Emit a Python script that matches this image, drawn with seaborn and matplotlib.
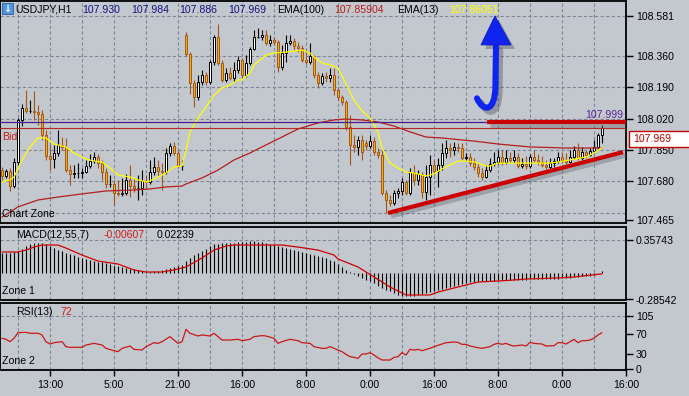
import numpy as np
import matplotlib
matplotlib.use("Agg")
import matplotlib.pyplot as plt
import matplotlib.patheffects as pe
from matplotlib.patches import Polygon, Rectangle, PathPatch
from matplotlib.path import Path
from matplotlib.transforms import offset_copy
import seaborn as sns

# ---------------- data (USDJPY H1 candles) ----------------
opens = [107.739, 107.707, 107.734, 107.652, 107.783, 108.012, 108.077, 108.061, 108.061, 108.056,
         108.045, 107.930, 107.816, 107.799, 107.832, 107.876, 107.865, 107.739, 107.718, 107.723,
         107.723, 107.728, 107.761, 107.788, 107.810, 107.777, 107.728, 107.663, 107.663, 107.614,
         107.609, 107.614, 107.685, 107.652, 107.641, 107.641, 107.680, 107.674, 107.728, 107.756,
         107.734, 107.728, 107.832, 107.870, 107.832, 107.761, 108.475, 108.372, 108.214, 108.137,
         108.219, 108.257, 108.219, 108.328, 108.464, 108.323, 108.230, 108.268, 108.241, 108.284,
         108.339, 108.257, 108.323, 108.399, 108.464, 108.464, 108.475, 108.432, 108.448, 108.437,
         108.301, 108.377, 108.432, 108.442, 108.415, 108.404, 108.339, 108.328, 108.361, 108.257,
         108.214, 108.252, 108.241, 108.257, 108.175, 108.137, 108.110, 107.974, 107.876, 107.865,
         107.903, 107.887, 107.870, 107.897, 107.837, 107.821, 107.614, 107.576, 107.560, 107.614,
         107.625, 107.674, 107.614, 107.728, 107.685, 107.718, 107.620, 107.701, 107.767, 107.734,
         107.767, 107.832, 107.859, 107.848, 107.865, 107.859, 107.805, 107.810, 107.777, 107.756,
         107.723, 107.701, 107.739, 107.772, 107.783, 107.810, 107.783, 107.805, 107.794, 107.810,
         107.761, 107.772, 107.761, 107.810, 107.794, 107.783, 107.767, 107.756, 107.777, 107.788,
         107.810, 107.794, 107.783, 107.810, 107.848, 107.805, 107.837, 107.821, 107.843, 107.865,
         107.930]
highs = [107.756, 107.745, 107.750, 107.805, 108.023, 108.099, 108.175, 108.121, 108.170, 108.094,
         108.066, 107.957, 107.876, 107.876, 107.957, 107.919, 107.914, 107.767, 107.767, 107.777,
         107.750, 107.794, 107.827, 107.837, 107.827, 107.794, 107.750, 107.712, 107.685, 107.685,
         107.696, 107.718, 107.767, 107.696, 107.712, 107.739, 107.712, 107.794, 107.810, 107.794,
         107.777, 107.859, 107.887, 107.892, 107.848, 107.794, 108.492, 108.382, 108.230, 108.257,
         108.284, 108.273, 108.339, 108.475, 108.535, 108.339, 108.295, 108.301, 108.328, 108.361,
         108.350, 108.366, 108.410, 108.502, 108.513, 108.502, 108.502, 108.475, 108.464, 108.448,
         108.421, 108.475, 108.475, 108.459, 108.437, 108.421, 108.393, 108.432, 108.366, 108.273,
         108.268, 108.273, 108.295, 108.295, 108.186, 108.148, 108.121, 108.039, 107.930, 107.925,
         107.930, 107.903, 107.930, 107.919, 107.859, 107.848, 107.630, 107.603, 107.630, 107.641,
         107.696, 107.685, 107.750, 107.767, 107.739, 107.728, 107.767, 107.821, 107.794, 107.805,
         107.887, 107.903, 107.887, 107.892, 107.887, 107.887, 107.832, 107.832, 107.805, 107.777,
         107.750, 107.767, 107.805, 107.837, 107.848, 107.848, 107.848, 107.837, 107.848, 107.832,
         107.805, 107.816, 107.827, 107.848, 107.827, 107.816, 107.794, 107.805, 107.805, 107.837,
         107.837, 107.832, 107.848, 107.870, 107.887, 107.865, 107.848, 107.859, 107.903, 107.941,
         107.984]
lows = [107.685, 107.696, 107.625, 107.641, 107.767, 107.979, 108.050, 108.050, 108.012, 107.985,
        107.903, 107.794, 107.739, 107.750, 107.816, 107.848, 107.728, 107.658, 107.696, 107.696,
        107.696, 107.723, 107.750, 107.777, 107.750, 107.685, 107.641, 107.647, 107.549, 107.598,
        107.598, 107.603, 107.592, 107.620, 107.576, 107.603, 107.641, 107.663, 107.712, 107.707,
        107.630, 107.718, 107.816, 107.821, 107.750, 107.739, 108.361, 108.154, 108.083, 108.121,
        108.203, 108.203, 108.208, 108.312, 108.312, 108.219, 108.219, 108.230, 108.219, 108.268,
        108.246, 108.246, 108.312, 108.393, 108.459, 108.448, 108.421, 108.415, 108.421, 108.273,
        108.284, 108.328, 108.421, 108.393, 108.382, 108.328, 108.317, 108.317, 108.241, 108.186,
        108.203, 108.219, 108.219, 108.148, 108.121, 108.094, 107.957, 107.767, 107.837, 107.821,
        107.794, 107.848, 107.859, 107.821, 107.805, 107.603, 107.505, 107.543, 107.549, 107.587,
        107.603, 107.603, 107.603, 107.658, 107.658, 107.587, 107.576, 107.603, 107.712, 107.647,
        107.739, 107.805, 107.810, 107.821, 107.837, 107.794, 107.794, 107.761, 107.739, 107.701,
        107.685, 107.696, 107.728, 107.761, 107.772, 107.767, 107.772, 107.777, 107.777, 107.750,
        107.750, 107.745, 107.750, 107.783, 107.767, 107.756, 107.745, 107.745, 107.756, 107.777,
        107.777, 107.772, 107.777, 107.799, 107.794, 107.794, 107.805, 107.816, 107.832, 107.848,
        107.886]
closes = [107.707, 107.734, 107.652, 107.783, 108.012, 108.077, 108.061, 108.061, 108.056, 108.045,
          107.930, 107.816, 107.799, 107.832, 107.876, 107.865, 107.739, 107.718, 107.723, 107.723,
          107.728, 107.761, 107.788, 107.810, 107.777, 107.728, 107.663, 107.663, 107.614, 107.609,
          107.614, 107.685, 107.652, 107.641, 107.641, 107.680, 107.674, 107.728, 107.756, 107.734,
          107.728, 107.832, 107.870, 107.832, 107.761, 107.761, 108.372, 108.214, 108.137, 108.219,
          108.257, 108.219, 108.328, 108.464, 108.323, 108.230, 108.268, 108.241, 108.284, 108.339,
          108.257, 108.323, 108.399, 108.464, 108.464, 108.475, 108.432, 108.448, 108.437, 108.301,
          108.377, 108.432, 108.442, 108.415, 108.404, 108.339, 108.328, 108.361, 108.257, 108.214,
          108.252, 108.241, 108.257, 108.175, 108.137, 108.110, 107.974, 107.876, 107.865, 107.903,
          107.837, 107.870, 107.897, 107.837, 107.821, 107.614, 107.576, 107.560, 107.614, 107.625,
          107.674, 107.614, 107.728, 107.685, 107.718, 107.620, 107.701, 107.767, 107.734, 107.767,
          107.832, 107.859, 107.848, 107.865, 107.859, 107.805, 107.810, 107.777, 107.756, 107.723,
          107.701, 107.739, 107.772, 107.783, 107.810, 107.783, 107.805, 107.794, 107.810, 107.761,
          107.772, 107.761, 107.810, 107.794, 107.783, 107.767, 107.756, 107.777, 107.788, 107.810,
          107.794, 107.783, 107.810, 107.848, 107.805, 107.837, 107.821, 107.843, 107.865, 107.930,
          107.969]

ema13_bars = [0, 2, 3, 5, 7, 9, 11, 13, 15, 16, 18, 21, 23, 25, 27, 29, 32, 34, 36, 37,
              39, 41, 43, 45, 46, 47, 49, 51, 53, 55, 57, 59, 60, 62, 63, 66, 68, 71, 73, 75,
              77, 78, 80, 82, 84, 85, 88, 90, 92, 94, 95, 97, 99, 101, 103, 105, 106, 108, 110, 112,
              114, 116, 118, 121, 122, 124, 128, 132, 137, 139, 142, 146, 148, 150]
ema13_vals = [107.674, 107.685, 107.701, 107.794, 107.865, 107.914, 107.914, 107.881, 107.870, 107.865,
              107.832, 107.799, 107.788, 107.783, 107.750, 107.712, 107.701, 107.685, 107.674, 107.680,
              107.701, 107.723, 107.756, 107.761, 107.848, 107.946, 108.023, 108.083, 108.148, 108.186,
              108.203, 108.230, 108.230, 108.268, 108.312, 108.366, 108.377, 108.382, 108.388, 108.393,
              108.377, 108.355, 108.323, 108.312, 108.295, 108.252, 108.121, 108.061, 108.023, 107.946,
              107.859, 107.777, 107.750, 107.728, 107.723, 107.712, 107.707, 107.718, 107.745, 107.767,
              107.788, 107.788, 107.783, 107.761, 107.761, 107.777, 107.777, 107.777, 107.777, 107.783,
              107.794, 107.810, 107.832, 107.861]
ema100_bars = [0, 4, 9, 14, 20, 26, 33, 37, 41, 45, 46, 50, 54, 58, 62, 66, 70, 74, 79, 83,
               86, 90, 94, 98, 102, 106, 110, 115, 118, 124, 132, 141, 150]
ema100_vals = [107.483, 107.538, 107.576, 107.592, 107.609, 107.625, 107.630, 107.636, 107.647, 107.652,
               107.663, 107.696, 107.739, 107.794, 107.832, 107.876, 107.919, 107.963, 107.996, 108.012,
               108.017, 108.012, 108.001, 107.979, 107.947, 107.919, 107.914, 107.903, 107.897, 107.881,
               107.865, 107.859, 107.859]

macd_hist = [0.221, 0.221, 0.221, 0.232, 0.243, 0.264, 0.297, 0.320, 0.330, 0.330,
             0.330, 0.320, 0.297, 0.275, 0.253, 0.238, 0.221, 0.210, 0.194, 0.183,
             0.167, 0.156, 0.145, 0.134, 0.123, 0.118, 0.107, 0.096, 0.085, 0.080,
             0.069, 0.058, 0.052, 0.047, 0.036, 0.025, 0.014, 0.014, 0.020, 0.025,
             0.036, 0.047, 0.058, 0.069, 0.080, 0.090, 0.134, 0.167, 0.199, 0.221,
             0.243, 0.264, 0.297, 0.314, 0.320, 0.325, 0.330, 0.330, 0.333, 0.336,
             0.340, 0.345, 0.357, 0.352, 0.345, 0.336, 0.330, 0.320, 0.308, 0.297,
             0.286, 0.275, 0.264, 0.253, 0.243, 0.232, 0.221, 0.210, 0.199, 0.189,
             0.178, 0.167, 0.150, 0.134, 0.101, 0.074, 0.041, 0.014, -0.008, -0.029,
             -0.046, -0.068, -0.089, -0.111, -0.133, -0.155, -0.177, -0.198, -0.215, -0.236,
             -0.242, -0.247, -0.247, -0.247, -0.236, -0.226, -0.215, -0.209, -0.198, -0.182,
             -0.166, -0.155, -0.144, -0.138, -0.127, -0.117, -0.106, -0.100, -0.095, -0.095,
             -0.089, -0.089, -0.084, -0.084, -0.078, -0.078, -0.073, -0.073, -0.073, -0.068,
             -0.068, -0.068, -0.062, -0.062, -0.062, -0.062, -0.062, -0.057, -0.057, -0.057,
             -0.051, -0.051, -0.046, -0.040, -0.035, -0.029, -0.029, -0.024, -0.019, -0.002,
             0.022]
signal_bars = [0, 4, 6, 8, 10, 14, 16, 20, 24, 29, 33, 36, 40, 43, 46, 50, 53, 56, 58, 66,
               70, 74, 79, 83, 84, 89, 93, 97, 101, 107, 109, 114, 119, 124, 128, 131, 139, 143, 150]
signal_vals = [0.232, 0.232, 0.253, 0.286, 0.308, 0.308, 0.275, 0.199, 0.134, 0.101,
               0.036, 0.014, 0.014, 0.036, 0.069, 0.167, 0.253, 0.297, 0.308, 0.308,
               0.308, 0.286, 0.253, 0.199, 0.156, 0.069, -0.040, -0.149, -0.236, -0.236,
               -0.204, -0.149, -0.095, -0.084, -0.073, -0.062, -0.051, -0.040, -0.006]

rsi_bars = [0, 1, 2, 3, 4, 6, 7, 9, 10, 11, 12, 13, 15, 16, 17, 20, 21, 23, 25, 26,
            28, 29, 30, 32, 33, 35, 36, 38, 39, 40, 42, 43, 44, 45, 46, 47, 49, 50, 52, 53,
            54, 55, 57, 59, 60, 62, 63, 65, 66, 68, 69, 70, 72, 74, 75, 77, 78, 80, 81, 82,
            84, 85, 86, 87, 88, 89, 90, 91, 92, 93, 94, 95, 97, 98, 99, 100, 101, 102, 103, 104,
            105, 107, 108, 110, 111, 113, 114, 115, 116, 117, 119, 120, 122, 123, 124, 125, 126, 127, 128, 130,
            131, 132, 133, 135, 136, 138, 139, 140, 141, 142, 143, 144, 145, 146, 147, 148, 149, 150]
rsi_vals = [60.8, 58.8, 54.1, 60.8, 72.0, 72.6, 70.7, 70.7, 67.4, 54.1,
            49.5, 52.1, 54.1, 44.2, 42.9, 42.9, 47.5, 50.8, 47.5, 40.9,
            36.3, 34.3, 40.9, 45.5, 38.9, 37.6, 44.2, 52.1, 50.8, 54.1,
            64.1, 57.4, 50.8, 54.1, 78.6, 70.7, 65.4, 67.4, 65.4, 70.7,
            64.1, 57.4, 57.4, 58.8, 56.1, 58.8, 64.1, 66.1, 65.4, 60.8,
            50.8, 54.1, 58.8, 56.1, 52.1, 50.8, 44.2, 40.9, 40.9, 44.2,
            37.6, 34.3, 29.0, 24.4, 23.1, 21.1, 29.7, 29.7, 32.3, 27.7,
            22.0, 17.8, 17.8, 23.1, 24.4, 32.3, 27.7, 38.9, 37.6, 38.9,
            36.3, 40.9, 44.2, 49.5, 52.1, 53.4, 52.7, 48.8, 48.8, 45.5,
            42.2, 40.9, 44.2, 48.8, 50.8, 48.8, 50.8, 47.5, 45.5, 47.5,
            45.5, 52.7, 50.8, 49.5, 45.5, 46.1, 52.1, 52.1, 49.5, 54.1,
            58.8, 52.1, 56.1, 56.1, 57.4, 60.8, 67.4, 72.0]

price_ticks = [108.581, 108.360, 108.190, 108.020, 107.850, 107.680, 107.465]
price_grid = [108.581, 108.360, 108.190, 108.020, 107.850, 107.680, 107.505]
macd_ticks = [0.35743, -0.28542]
rsi_ticks = [105, 70, 30, 0]
time_bars = [12, 28, 44, 60, 76, 92, 108, 124, 140, 156]
time_labels = ["13:00", "5:00", "21:00", "16:00", "8:00", "0:00", "16:00", "8:00", "0:00", "16:00"]
grid_bars = list(range(4, 156, 8))
bid_price = 107.969
level_price = 107.999
level_bars = [121.25, 156]
trend_bars = [96.5, 155.25]
trend_prices = [107.505, 107.837]

# ---------------- styling ----------------
sns.set_style("white")
plt.rcParams['font.family'] = ['Liberation Sans', 'DejaVu Sans']

W, H = 689, 396
BG = '#c3c8ce'
GRID = '#7c899b'
FS = 7.6
fig = plt.figure(figsize=(W / 100, H / 100), dpi=100)
fig.patch.set_facecolor(BG)


def fx(px):
    return px / W


def fy(py):
    return 1 - py / H


def panel(top, bottom, ylim):
    ax = fig.add_axes([0, fy(bottom), fx(626), (bottom - top) / H])
    ax.set_facecolor(BG)
    ax.set_xlim(-0.5, 156)
    ax.set_ylim(*ylim)
    for s in ax.spines.values():
        s.set_color('black')
        s.set_linewidth(1.3)
    ax.yaxis.tick_right()
    ax.tick_params(axis='y', direction='out', length=5, width=1, pad=2,
                   labelsize=FS, colors='black', left=False, right=True)
    ax.set_xticks([])
    for b in grid_bars:
        ax.axvline(b, color=GRID, lw=0.8, ls=(0, (3, 2)), zorder=0)
    return ax


ax1 = panel(1, 223, (107.4504, 108.6605))
ax2 = panel(227, 299.5, (-0.2854, 0.5045))
ax3 = panel(303, 370, (-2.0, 130.7))

# main panel grid + ticks
for p in price_grid:
    ax1.axhline(p, color=GRID, lw=0.8, ls=(0, (3, 2)), zorder=0)
ax1.set_yticks(price_ticks)
ax1.set_yticklabels([f"{v:.3f}" for v in price_ticks])

# candles
o = np.array(opens); h = np.array(highs); l = np.array(lows); c = np.array(closes)
x = np.arange(len(c))
up = c >= o
lo_body = np.minimum(o, c)
hb = np.maximum(np.abs(c - o), 0.0010)
ax1.vlines(x[up], l[up], h[up], color='black', lw=0.8, zorder=3)
ax1.vlines(x[~up], l[~up], h[~up], color='#a4561a', lw=0.8, zorder=3)
ax1.bar(x[up], hb[up], bottom=lo_body[up], width=0.5, color='white',
        edgecolor='black', linewidth=0.7, zorder=4)
ax1.bar(x[~up], hb[~up], bottom=lo_body[~up], width=0.5, color='#f2b300',
        edgecolor='#a4561a', linewidth=0.7, zorder=4)

# moving averages
sns.lineplot(x=ema100_bars, y=ema100_vals, ax=ax1, color='#b41e1e', lw=0.9, legend=False, zorder=5)
sns.lineplot(x=ema13_bars, y=ema13_vals, ax=ax1, color='#ffff00', lw=0.9, legend=False, zorder=5)

# horizontal levels
ax1.axhline(level_price, color='#4a1d8c', lw=0.9, zorder=5)
ax1.axhline(bid_price, color='#b02828', lw=0.8, zorder=5)

shadow_tr = offset_copy(ax1.transData, fig=fig, x=3, y=-3, units='dots')
for xs, ys in [(level_bars, [level_price, level_price]), (trend_bars, trend_prices)]:
    ax1.plot(xs, ys, color='#555c66', lw=3.6, alpha=0.35, transform=shadow_tr,
             solid_capstyle='butt', zorder=6)
    ax1.plot(xs, ys, color='#cc0000', lw=3.0, solid_capstyle='butt', zorder=7)

# blue J arrow annotation
shaft = Path([(123.5, 108.415), (123.35, 108.19), (123.2, 108.06), (120.5, 108.05), (118.75, 108.13)],
             [Path.MOVETO, Path.LINETO, Path.CURVE4, Path.CURVE4, Path.CURVE4])
head = [(123.25, 108.579), (119.75, 108.421), (127.25, 108.421)]
shadow_tr2 = offset_copy(ax1.transData, fig=fig, x=4, y=-4, units='dots')
ax1.add_patch(PathPatch(shaft, fill=False, lw=4.6, edgecolor='#3a3f4a', alpha=0.35,
                        capstyle='round', transform=shadow_tr2, zorder=8))
ax1.add_patch(Polygon(head, closed=True, facecolor='#3a3f4a', edgecolor='none', alpha=0.35,
                      transform=shadow_tr2, zorder=8))
ax1.add_patch(PathPatch(shaft, fill=False, lw=4.4, edgecolor='#1024f0', capstyle='round', zorder=9))
ax1.add_patch(Polygon(head, closed=True, facecolor='#1024f0', edgecolor='#0a18c0', lw=0.6, zorder=9))

# MACD panel
ax2.axhline(macd_ticks[0], color=GRID, lw=0.8, ls=(0, (3, 2)), zorder=0)
ax2.vlines(x, 0, macd_hist, color='black', lw=0.8, zorder=3)
sns.lineplot(x=signal_bars, y=signal_vals, ax=ax2, color='#d00000', lw=0.9, legend=False, zorder=4)
ax2.set_yticks(macd_ticks)
ax2.set_yticklabels([f"{v:.5f}" for v in macd_ticks])

# RSI panel
for r in [105, 0]:
    ax3.axhline(r, color=GRID, lw=0.8, ls=(0, (3, 2)), zorder=0)
sns.lineplot(x=rsi_bars, y=rsi_vals, ax=ax3, color='#c81818', lw=0.9, legend=False, zorder=4)
ax3.set_yticks(rsi_ticks)
ax3.set_yticklabels([str(v) for v in rsi_ticks])
ax3.set_xticks(time_bars)
ax3.set_xticklabels(time_labels)
ax3.tick_params(axis='x', direction='out', length=4, width=1, pad=3, labelsize=FS, colors='black',
                bottom=True)
for a in (ax1, ax2, ax3):
    a.set_xlabel('')
    a.set_ylabel('')

# ---------------- texts ----------------
def t(px, py, s, color='black', ha='left', size=FS):
    fig.text(fx(px), fy(py), s, color=color, ha=ha, va='center', fontsize=size)

fig.patches.append(Rectangle((fx(2), fy(14)), fx(11), 11 / H, transform=fig.transFigure,
                             facecolor='#4e95dc', edgecolor='#2a5fa0', lw=0.6, zorder=10))
fig.text(fx(7.5), fy(8.5), "↓", color='white', ha='center', va='center', fontsize=7,
         family='DejaVu Sans', weight='bold', zorder=11)
t(15, 10, "USDJPY,H1")
navy = '#14147e'
t(82, 10, "107.930", navy)
t(131, 10, "107.984", navy)
t(179, 10, "107.886", navy)
t(228, 10, "107.969", navy)
t(277, 10, "EMA(100)")
t(334, 10, "107.85904", '#b42020')
t(397, 10, "EMA(13)")
t(449, 10, "107.86051", '#ffff00')
t(2, 137, "Bid", '#c02020')
t(2, 214, "Chart Zone")
t(16, 235, "MACD(12,55,7)")
t(104, 235, "-0.00607", '#cc1c1c')
t(157, 235, "0.02239")
t(2, 291, "Zone 1")
t(16, 312, "RSI(13)")
t(60, 312, "72", '#cc1c1c')
t(2, 361, "Zone 2")
t(623, 115, "107.999", '#5a2294', ha='right')

fig.patches.append(Rectangle((fx(629), fy(147)), fx(62), 16 / H, transform=fig.transFigure,
                             facecolor='white', edgecolor='#c00000', lw=1.0, zorder=10))
fig.text(fx(633), fy(139), "107.969", color='#c00000', ha='left', va='center', fontsize=FS, zorder=11)

fig.savefig('out.png', dpi=100, facecolor=BG)
